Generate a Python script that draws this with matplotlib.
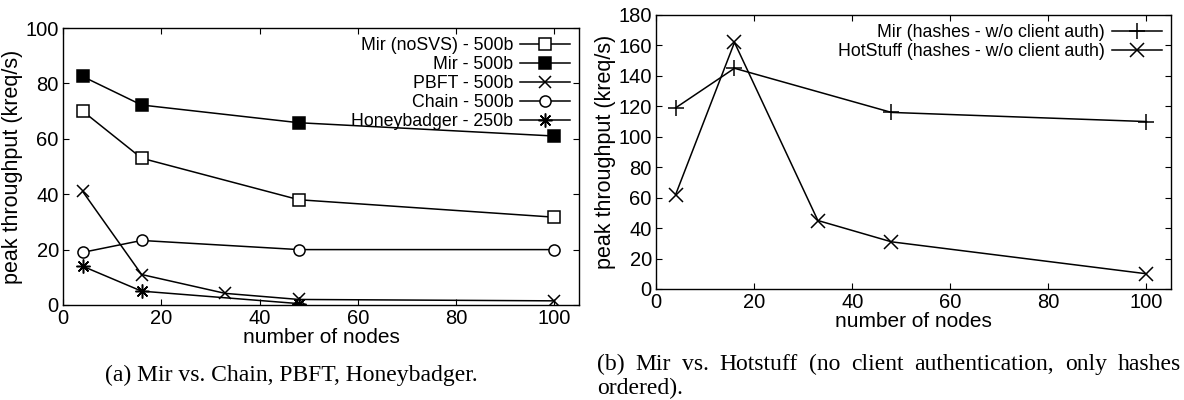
import matplotlib
matplotlib.use("Agg")
import matplotlib.pyplot as plt

plt.rcParams['font.family'] = ['Liberation Sans', 'DejaVu Sans']

# left panel: Mir vs. Chain, PBFT, Honeybadger
nodes = [4, 16, 48, 100]
mir_nosvs = [70, 53, 38, 31.7]
mir_500 = [82.5, 72.2, 65.8, 61]
pbft_nodes = [4, 16, 33, 48, 100]
pbft_500 = [41, 11, 4.2, 2, 1.5]
chain_500 = [19, 23.3, 20, 20]
hb_nodes = [4, 16, 48]
hb_250 = [14, 5, 0.5]

# right panel: Mir vs. HotStuff (hashes only)
mir_hash = [119, 145, 116, 110]
hs_nodes = [4, 16, 33, 48, 100]
hs_hash = [62, 162, 45, 31, 10]

xticks = [0, 20, 40, 60, 80, 100]
cap_a = "(a) Mir vs. Chain, PBFT, Honeybadger."
cap_b1 = "(b) Mir vs.  Hotstuff (no client authentication, only hashes"
cap_b2 = "ordered)."

fig = plt.figure(figsize=(11.84, 4.0), dpi=100)
ax1 = fig.add_axes([63 / 1184, 1 - 305 / 400, 516 / 1184, 277 / 400])
ax2 = fig.add_axes([656 / 1184, 1 - 289 / 400, 515 / 1184, 274 / 400])

lw = 1.1
mew = 1.1
ax1.plot(nodes, mir_nosvs, color='k', lw=lw, marker='s', ms=8, mfc='white',
         mec='k', mew=mew, label='Mir (noSVS) - 500b')
ax1.plot(nodes, mir_500, color='k', lw=lw, marker='s', ms=8, mfc='k',
         mec='k', mew=mew, label='Mir - 500b')
ax1.plot(pbft_nodes, pbft_500, color='k', lw=lw, marker='x', ms=9,
         mew=mew, label='PBFT - 500b')
ax1.plot(nodes, chain_500, color='k', lw=lw, marker='o', ms=8, mfc='white',
         mec='k', mew=mew, label='Chain - 500b')
ax1.plot(hb_nodes, hb_250, color='k', lw=lw, marker=(8, 2, 0), ms=10,
         mew=mew, label='Honeybadger - 250b')
ax1.set_ylim(0, 100)
ax1.set_yticks([0, 20, 40, 60, 80, 100])

ax2.plot(nodes, mir_hash, color='k', lw=lw, marker='+', ms=11, mew=mew,
         label='Mir (hashes - w/o client auth)')
ax2.plot(hs_nodes, hs_hash, color='k', lw=lw, marker='x', ms=10, mew=mew,
         label='HotStuff (hashes - w/o client auth)')
ax2.set_ylim(0, 180)
ax2.set_yticks(range(0, 181, 20))

for ax in (ax1, ax2):
    ax.set_xlim(0, 105)
    ax.set_xticks(xticks)
    ax.tick_params(direction='in', length=4, width=0.8, top=True, right=True,
                   labelsize=14.5, pad=3)
    for s in ax.spines.values():
        s.set_linewidth(1.0)
    ax.set_xlabel('number of nodes', fontsize=15, labelpad=0)
    ax.set_ylabel('peak throughput (kreq/s)', fontsize=15.5, labelpad=2)
    ax.legend(loc='upper right', frameon=False, markerfirst=False,
              fontsize=12.8, handlelength=2.8, handletextpad=0.4,
              labelspacing=0.12, borderaxespad=0.3, borderpad=0.2)
    for t in ax.get_legend().get_texts():
        t.set_ha('right')

# captions
fig.text(291 / 1184, 1 - 375 / 400, cap_a, family='Liberation Serif',
         fontsize=17, ha='center', va='center')

# first line of caption (b) is justified, word by word
renderer = fig.canvas.get_renderer()
words = cap_b1.split()
x0, x1 = 597, 1181
objs = []
widths = []
for w in words:
    t = fig.text(0, 1 - 370 / 400, w, family='Liberation Serif', fontsize=17,
                 ha='left', va='baseline')
    objs.append(t)
    widths.append(t.get_window_extent(renderer).width)
gap = (x1 - x0 - sum(widths)) / (len(words) - 1)
xpos = x0
for t, wd in zip(objs, widths):
    t.set_x(xpos / 1184)
    xpos += wd + gap
fig.text(x0 / 1184, 1 - 394 / 400, cap_b2, family='Liberation Serif',
         fontsize=17, ha='left', va='baseline')

fig.savefig('out.png', dpi=100)
